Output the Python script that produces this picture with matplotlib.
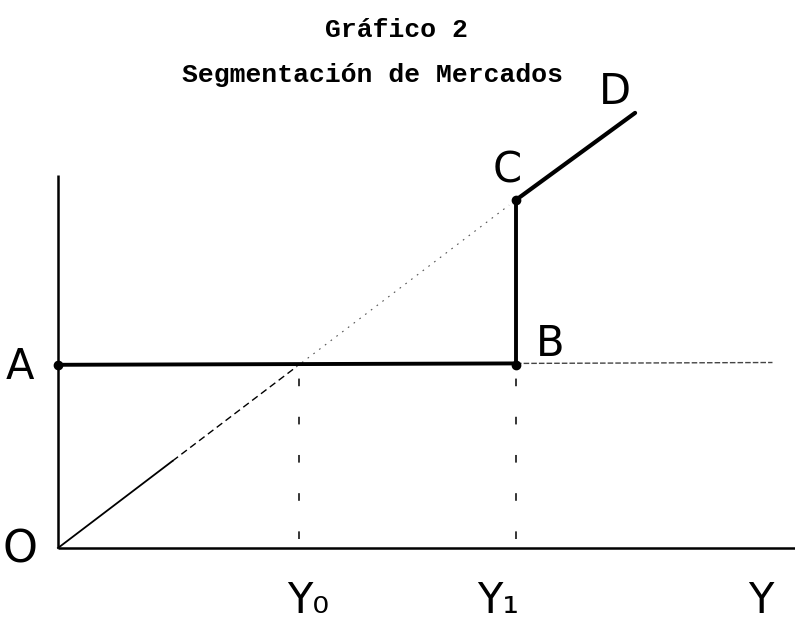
import matplotlib
matplotlib.use("Agg")
import matplotlib.pyplot as plt

# ---- data (diagram units) ----
title_lines = ["Gráfico 2", "Segmentación de Mercados"]
A_level = 4.0          # horizontal segment level (A -> B)
Y1 = 10.0              # kink income
C_level = 7.6          # level at C
Y0 = A_level * Y1 / C_level   # intersection of O-C ray with A level
D_point = (12.6, 9.5)
x_axis_end = 16.1
y_axis_top = 8.15
dotted_B_end = 15.6

fig = plt.figure(figsize=(7.95, 6.25), dpi=100)
ax = fig.add_axes([0, 0, 1, 1])
px = 45.8
ax.set_xlim(-58 / px, (795 - 58) / px)
ax.set_ylim(-(625 - 548) / px, 548 / px)
ax.axis("off")

k = "black"
# axes
ax.plot([0, 0], [0, y_axis_top], color=k, lw=1.8, solid_capstyle="butt")
ax.plot([0, x_axis_end], [0, 0], color=k, lw=1.8, solid_capstyle="butt")

# ray O -> C: solid, then dashed, then dotted
slope = C_level / Y1
x1, x2 = 2.5, 5.2
ax.plot([0, x1], [0, slope * x1], color=k, lw=1.3)
ax.plot([x1, x2], [slope * x1, slope * x2], color=k, lw=1.0, ls=(0, (5, 3)))
ax.plot([x2, Y1 - 0.15], [slope * x2, slope * (Y1 - 0.15)], color="#555555",
        lw=0.8, ls=(0, (1.5, 5)))

# A -> B thick
ax.plot([0, Y1], [A_level, A_level + 0.03], color=k, lw=2.8, solid_capstyle="round")
# B -> C vertical
ax.plot([Y1, Y1], [A_level, C_level], color=k, lw=2.8)
# C -> D
ax.plot([Y1, D_point[0]], [C_level, D_point[1]], color=k, lw=3.0, solid_capstyle="round")
# dotted continuation from B
ax.plot([Y1, dotted_B_end], [A_level + 0.03, A_level + 0.05], color="#444444",
        lw=1.0, ls=(0, (4, 1.5)))

# vertical dashed guides
ax.plot([Y0, Y0], [0.2, A_level - 0.1], color=k, lw=1.1, ls=(0, (5, 20)))
ax.plot([Y1, Y1], [0.2, A_level - 0.1], color=k, lw=1.1, ls=(0, (5, 20)))

# points
ax.plot([0, Y1, Y1], [A_level, A_level, C_level], "o", color=k, ms=6)

# labels
lab = dict(color=k, fontsize=30, family="DejaVu Sans", ha="center", va="center")
ax.text(-0.83, A_level - 0.05, "A", **lab)
ax.text(-0.83, -0.05, "O", fontsize=32, color=k, ha="center", va="center",
        family="DejaVu Sans")
ax.text(Y0 + 0.2, -1.15, "Y₀", **lab)
ax.text(Y1 - 0.4, -1.15, "Y₁", **lab)
ax.text(15.35, -1.15, "Y", **lab)
ax.text(Y1 + 0.75, A_level + 0.45, "B", **lab)
ax.text(Y1 - 0.2, C_level + 0.65, "C", **lab)
ax.text(D_point[0] - 0.45, D_point[1] + 0.45, "D", **lab)

# titles
fig.text(396 / 795, 1 - 30 / 625, title_lines[0], ha="center", va="center",
         family="Liberation Mono", fontweight="bold", fontsize=19)
fig.text(373 / 795, 1 - 75 / 625, title_lines[1], ha="center", va="center",
         family="Liberation Mono", fontweight="bold", fontsize=19)

fig.savefig("out.png", dpi=100, facecolor="white")
